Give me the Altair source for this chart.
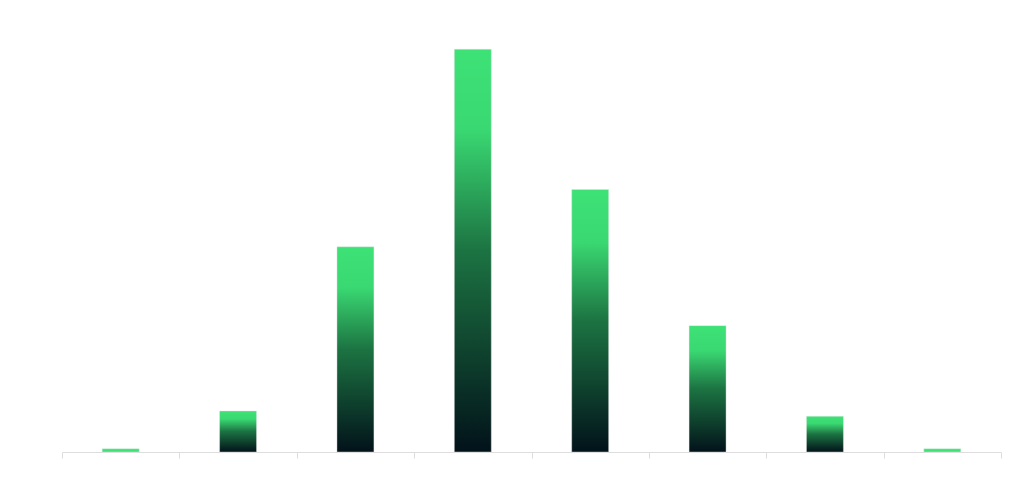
import altair as alt
import pandas as pd

categories = ["0", "1", "2", "3", "4", "5", "6", "7"]
values = [0.3, 3.8, 19.0, 37.3, 24.3, 11.7, 3.3, 0.3]

df = pd.DataFrame({"cat": categories, "val": values})

gradient = alt.Gradient(
    gradient="linear",
    stops=[
        alt.GradientStop(color="#02121a", offset=0),
        alt.GradientStop(color="#1c7342", offset=0.5),
        alt.GradientStop(color="#3ad872", offset=0.8),
        alt.GradientStop(color="#3de276", offset=1),
    ],
    x1=0, x2=0, y1=1, y2=0,
)

x_enc = alt.X(
    "cat:N",
    sort=categories,
    title=None,
    axis=alt.Axis(
        labels=False,
        domainColor="#dddddd",
        tickColor="#dddddd",
        tickBand="extent",
        tickSize=6,
    ),
    scale=alt.Scale(paddingInner=0, paddingOuter=0),
)
y_enc = alt.Y("val:Q", axis=None, scale=alt.Scale(domain=[0, 40]))

base = alt.Chart(df).encode(x=x_enc, y=y_enc)

tall = base.transform_filter("datum.val >= 1").mark_bar(
    color=gradient,
    width=alt.RelativeBandSize(0.315),
    stroke="#e6e6e6",
    strokeWidth=0.6,
    strokeOpacity=0.7,
)
tiny = base.transform_filter("datum.val < 1").mark_bar(
    color="#3de276",
    width=alt.RelativeBandSize(0.315),
    stroke="#e6e6e6",
    strokeWidth=0.6,
    strokeOpacity=0.7,
)

chart = (
    alt.layer(tall, tiny)
    .properties(width=939, height=432, padding={"left": 53, "top": 12, "right": 10, "bottom": 10})
    .configure_view(stroke=None)
)

chart.save("out.html", embed_options={"renderer": "svg", "actions": False})
